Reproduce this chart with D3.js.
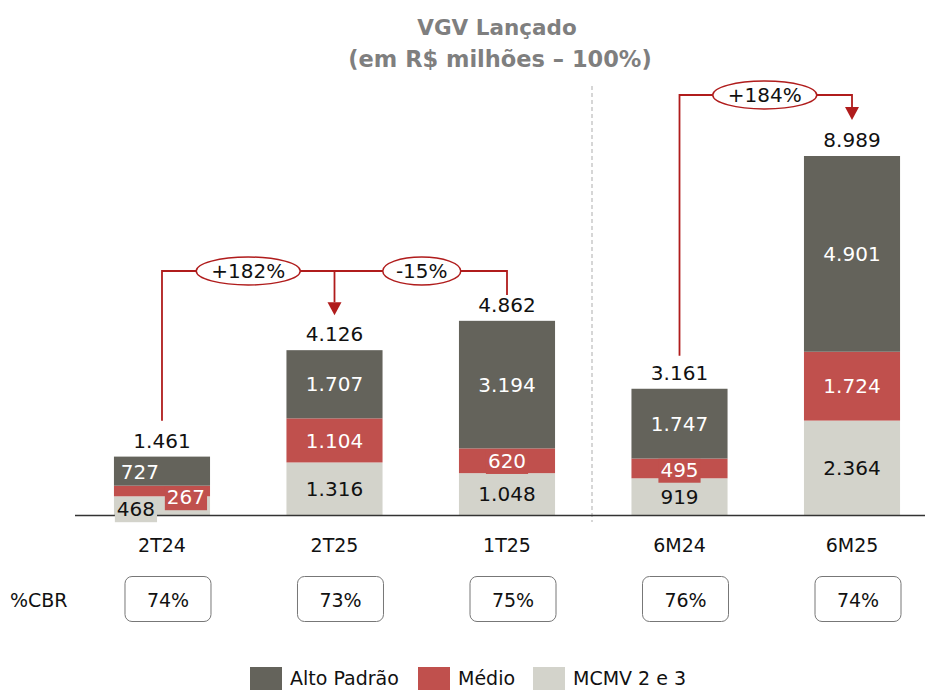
<!DOCTYPE html>
<html><head><meta charset="utf-8">
<script src="https://cdn.jsdelivr.net/npm/d3@7"></script>
<style>body{margin:0;background:#fff}</style></head>
<body><svg id="c" width="925" height="690"></svg>
<script>
const categories = ["2T24","2T25","1T25","6M24","6M25"];
const mcmv  = [468, 1316, 1048, 919, 2364];
const medio = [267, 1104, 620, 495, 1724];
const alto  = [727, 1707, 3194, 1747, 4901];
const totals = [1461, 4126, 4862, 3161, 8989];
const cbr = ["74%","73%","75%","76%","74%"];
const seriesNames = ["MCMV 2 e 3","Médio","Alto Padrão"];
const colors = {"MCMV 2 e 3":"#d3d3cb","Médio":"#c0504d","Alto Padrão":"#64635b"};
const textColors = {"MCMV 2 e 3":"#111","Médio":"#fff","Alto Padrão":"#fff"};
const growth = [{from:0,to:1,label:"+182%"},{from:1,to:2,label:"-15%"},{from:3,to:4,label:"+184%"}];

const fmt = v => d3.format(",")(v).replace(/,/g,".");
const svg = d3.select("#c");
const font = "'DejaVu Sans', Verdana, sans-serif";
const x = d3.scaleBand().domain(categories).range([76,938]).paddingInner(0.443).paddingOuter(0.22);
const y = d3.scaleLinear().domain([0,8989]).range([515,156]);
const bw = x.bandwidth();
const red = "#b01c1c";

// title
svg.append("text").attr("x",497).attr("y",35).attr("text-anchor","middle").attr("font-family",font)
  .attr("font-weight","bold").attr("font-size",21.5).attr("fill","#7f7f7f").text("VGV Lançado");
svg.append("text").attr("x",500).attr("y",67).attr("text-anchor","middle").attr("font-family",font)
  .attr("font-weight","bold").attr("font-size",22.5).attr("fill","#7f7f7f").text("(em R$ milhões – 100%)");

// divider
svg.append("line").attr("x1",592).attr("x2",592).attr("y1",86).attr("y2",522)
  .attr("stroke","#bbb").attr("stroke-width",1.2).attr("stroke-dasharray","4,3");

// stacked data
const rows = categories.map((c,i)=>({cat:c,"MCMV 2 e 3":mcmv[i],"Médio":medio[i],"Alto Padrão":alto[i]}));
const stack = d3.stack().keys(seriesNames)(rows);
const g = svg.append("g");
stack.forEach(s=>{
  g.selectAll(null).data(s).join("rect")
   .attr("x",d=>x(d.data.cat)).attr("width",bw)
   .attr("y",d=>y(d[1])).attr("height",d=>y(d[0])-y(d[1]))
   .attr("fill",colors[s.key]);
});

// axis line
svg.append("line").attr("x1",75).attr("x2",925).attr("y1",515.5).attr("y2",515.5).attr("stroke","#333").attr("stroke-width",1.3);

// segment labels
const fs = 20;
stack.forEach(s=>{
  s.forEach((d,i)=>{
    const v = d[1]-d[0];
    let cx = x(d.data.cat)+bw/2, cy = (y(d[0])+y(d[1]))/2;
    let box = false;
    if(i===0){ // 2T24 special layout
      if(s.key==="Alto Padrão"){cx = x(d.data.cat)+26; cy = 472;}
      if(s.key==="Médio"){cx = x(d.data.cat)+72; cy = 497; box=true;}
      if(s.key==="MCMV 2 e 3"){cx = x(d.data.cat)+22; cy = 509; box=true;}
    }
    if(i===3 && s.key==="Médio"){box=true; cy = y(d[1])+11;}
    if(i===2 && s.key==="Médio"){box=true;}
    const t = svg.append("text").attr("x",cx).attr("y",cy).attr("dy","0.36em").attr("text-anchor","middle")
      .attr("font-family",font).attr("font-size",fs).attr("fill",textColors[s.key]).text(fmt(v));
    if(box){
      const bb = t.node().getBBox();
      svg.insert("rect", () => t.node()).attr("x",bb.x-2).attr("y",bb.y+1).attr("width",bb.width+4).attr("height",bb.height)
        .attr("fill",colors[s.key]);
    }
  });
});

// totals
svg.selectAll(".tot").data(totals).join("text")
  .attr("x",(d,i)=>x(categories[i])+bw/2).attr("y",(d)=>y(d)-9)
  .attr("text-anchor","middle").attr("font-family",font).attr("font-size",fs).attr("fill","#111").text(d=>fmt(d));

// categories
svg.selectAll(".cat").data(categories).join("text")
  .attr("x",d=>x(d)+bw/2).attr("y",552).attr("text-anchor","middle")
  .attr("font-family",font).attr("font-size",19).attr("fill","#111").text(d=>d);

// %CBR
svg.append("text").attr("x",10).attr("y",607).attr("font-family",font).attr("font-size",19).attr("fill","#111").text("%CBR");
categories.forEach((c,i)=>{
  const cx = x(c)+bw/2 + 6;
  svg.append("rect").attr("x",cx-43).attr("y",576.5).attr("width",86).attr("height",45).attr("rx",7)
    .attr("fill","#fff").attr("stroke","#777").attr("stroke-width",1);
  svg.append("text").attr("x",cx).attr("y",607).attr("text-anchor","middle").attr("font-family",font)
    .attr("font-size",19).attr("fill","#111").text(cbr[i]);
});

// growth brackets
const ga = svg.append("g").attr("fill","none").attr("stroke",red).attr("stroke-width",1.8);
function arrowHead(cx, tipY){
  svg.append("path").attr("d",`M${cx-7},${tipY-13}L${cx+7},${tipY-13}L${cx},${tipY}Z`).attr("fill",red);
}
function ellipse(cx, cy, rx, label){
  svg.append("ellipse").attr("cx",cx).attr("cy",cy).attr("rx",rx).attr("ry",14).attr("fill","#fff").attr("stroke",red).attr("stroke-width",1.5);
  svg.append("text").attr("x",cx).attr("y",cy).attr("dy","0.36em").attr("text-anchor","middle").attr("font-family",font)
    .attr("font-size",20).attr("fill","#111").text(label);
}
// first group
{
  const xa = x(categories[0])+bw/2, xb = x(categories[1])+bw/2, xc = x(categories[2])+bw/2;
  const ly = 271;
  ga.append("path").attr("d",`M${xa},${y(totals[0])-36}V${ly}H${xc}V${ly+24}`);
  ga.append("path").attr("d",`M${xb},${ly}V${y(totals[1])-48}`);
  arrowHead(xb, y(totals[1])-35);
  ellipse((xa+xb)/2, ly, 52, growth[0].label);
  ellipse((xb+xc)/2+1, ly, 39, growth[1].label);
}
// second group
{
  const xa = x(categories[3])+bw/2, xb = x(categories[4])+bw/2;
  const ly = 95;
  ga.append("path").attr("d",`M${xa},${y(totals[3])-33}V${ly}H${xb}V${y(totals[4])-49}`);
  arrowHead(xb, y(totals[4])-36);
  ellipse((xa+xb)/2-1, ly, 52, growth[2].label);
}

// legend
const leg = [["Alto Padrão",250],["Médio",418],["MCMV 2 e 3",533]];
leg.forEach(([k,lx])=>{
  svg.append("rect").attr("x",lx).attr("y",667).attr("width",32).attr("height",23).attr("fill",colors[k]);
  svg.append("text").attr("x",lx+40).attr("y",685).attr("font-family",font).attr("font-size",19).attr("fill","#111").text(k);
});
</script></body></html>
